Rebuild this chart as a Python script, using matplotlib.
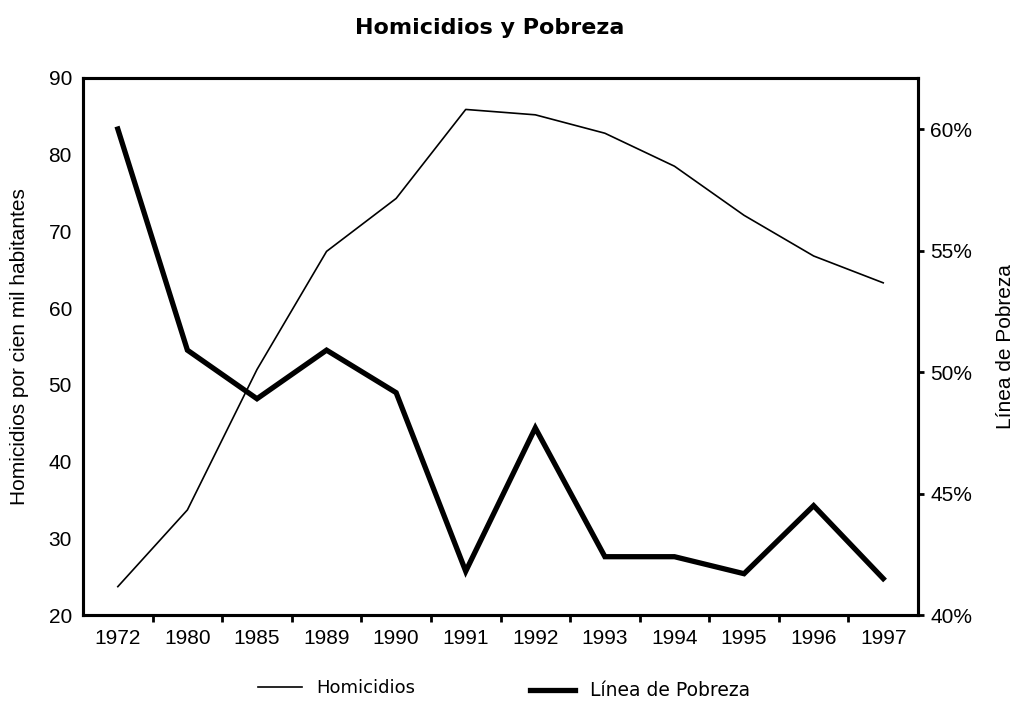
import matplotlib
matplotlib.use("Agg")
import matplotlib.pyplot as plt
from matplotlib.lines import Line2D
from matplotlib.ticker import FuncFormatter

# Data
years = ["1972", "1980", "1985", "1989", "1990", "1991", "1992",
         "1993", "1994", "1995", "1996", "1997"]
homicidios = [23.7, 33.7, 52.0, 67.4, 74.3, 85.9, 85.2, 82.8, 78.5, 72.1, 66.8, 63.3]
pobreza = [60.0, 50.9, 48.9, 50.9, 49.15, 41.8, 47.7, 42.4, 42.4, 41.7, 44.5, 41.5]

plt.rcParams["font.family"] = ["Liberation Sans", "DejaVu Sans"]

fig = plt.figure(figsize=(10.2, 7.02), dpi=100)
ax = fig.add_axes([0.0814, 0.1239, 0.8186, 0.765])
x = list(range(len(years)))

ax.plot(x, homicidios, color="black", linewidth=1.2)
ax.set_xlim(-0.5, len(years) - 0.5)
ax.set_ylim(20, 90)
ax.set_yticks([20, 30, 40, 50, 60, 70, 80, 90])
ax.set_xticks(x)
ax.set_xticklabels(years)
ax.set_xticks([i + 0.5 for i in range(len(years) - 1)], minor=True)
ax.tick_params(axis="x", which="major", length=0, labelsize=15, pad=10)
ax.tick_params(axis="x", which="minor", length=5, width=2, direction="out")
ax.tick_params(axis="y", length=0, labelsize=15, pad=8)
ax.set_ylabel("Homicidios por cien mil habitantes", fontsize=15, labelpad=14)

ax2 = ax.twinx()
ax2.plot(x, pobreza, color="black", linewidth=3.8, solid_joinstyle="miter")
ax2.set_ylim(40, 62.1)
ax2.set_yticks([40, 45, 50, 55, 60])
ax2.yaxis.set_major_formatter(FuncFormatter(lambda v, p: "%d%%" % v))
ax2.tick_params(axis="y", length=4, width=2, labelsize=15, pad=5)
ax2.set_ylabel("Línea de Pobreza", fontsize=15, labelpad=17)

for a in (ax, ax2):
    for s in a.spines.values():
        s.set_linewidth(2.2)

fig.text(0.48, 0.96, "Homicidios y Pobreza", ha="center", va="center",
         fontsize=16, fontweight="bold", family="DejaVu Sans")

h1 = Line2D([], [], color="black", linewidth=1.2)
h2 = Line2D([], [], color="black", linewidth=3.8)
leg1 = fig.legend([h1], ["Homicidios"], loc="center", bbox_to_anchor=(0.33, 0.02),
                  frameon=False, handlelength=2.4, prop={"family": "DejaVu Sans", "size": 13})
leg2 = fig.legend([h2], ["Línea de Pobreza"], loc="center", bbox_to_anchor=(0.628, 0.016),
                  frameon=False, handlelength=2.4, prop={"family": "DejaVu Sans", "size": 13.5})

fig.savefig("out.png", dpi=100)
